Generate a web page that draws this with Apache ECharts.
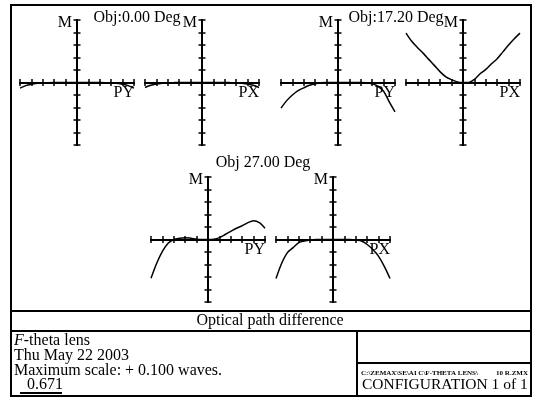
<!DOCTYPE html>
<html>
<head>
<meta charset="utf-8">
<script src="https://cdn.jsdelivr.net/npm/echarts@6/dist/echarts.min.js"></script>
<style>
html, body { margin: 0; padding: 0; background: #fff; }
#main { width: 538px; height: 398px; }
</style>
</head>
<body>
<div id="main"></div>
<script>
var pupil = [-1, -0.9, -0.8, -0.7, -0.6, -0.5, -0.4, -0.3, -0.2, -0.1, 0, 0.1, 0.2, 0.3, 0.4, 0.5, 0.6, 0.7, 0.8, 0.9, 1];
var opdObj0Py  = [-0.009, -0.005, -0.0028, -0.0014, -0.0006, -0.0002, 0, 0, 0, 0, 0, 0, 0, 0, 0, -0.0002, -0.0006, -0.0014, -0.0028, -0.005, -0.009];
var opdObj0Px  = [-0.008, -0.0045, -0.0025, -0.0013, -0.0005, -0.0002, 0, 0, 0, 0, 0, 0, 0, 0, 0, -0.0002, -0.0005, -0.0013, -0.0025, -0.0045, -0.008];
var opdObj17Py = [-0.041, -0.029, -0.020, -0.013, -0.0085, -0.0045, -0.002, -0.0005, 0, 0, 0, 0, 0, 0, 0, -0.0005, -0.002, -0.006, -0.014, -0.031, -0.047];
var opdObj17Px = [0.079, 0.066, 0.056, 0.047, 0.037, 0.027, 0.017, 0.009, 0.0045, 0.001, 0, 0, 0.005, 0.014, 0.021, 0.030, 0.038, 0.049, 0.060, 0.070, 0.079];
var opdObj27Py = [-0.062, -0.038, -0.019, -0.006, 0, 0.002, 0.003, 0.002, 0.0005, 0, 0, 0.0005, 0.003, 0.008, 0.013, 0.018, 0.022, 0.027, 0.030, 0.027, 0.018];
var opdObj27Px = [-0.0625, -0.038, -0.021, -0.013, -0.005, -0.0025, -0.001, 0, 0, 0, 0, 0, 0, 0, -0.001, -0.0025, -0.008, -0.016, -0.027, -0.043, -0.0625];

var fanNames = ['PY', 'PX', 'PY', 'PX', 'PY', 'PX'];
var fanData = [opdObj0Py, opdObj0Px, opdObj17Py, opdObj17Px, opdObj27Py, opdObj27Px];
var fieldTitles = ['Obj:0.00 Deg', 'Obj:17.20 Deg', 'Obj 27.00 Deg'];
var maxScale = 0.1;   // waves

// layout of the six little crosses
var boxes = [
  { left: 20,  top: 20 },
  { left: 145, top: 20 },
  { left: 281, top: 20 },
  { left: 406, top: 20 },
  { left: 151, top: 177 },
  { left: 276, top: 177 }
];

var FONT = "'Liberation Serif', 'Times New Roman', serif";
var myChart = echarts.init(document.getElementById('main'), null, { renderer: 'canvas' });

var grids = [], xAxes = [], yAxes = [], series = [];

function xAx(g, pos, name) {
  return {
    type: 'value', gridIndex: g, position: pos, min: -1, max: 1, interval: 0.2,
    name: name, nameLocation: 'end', nameGap: 0,
    nameTextStyle: { fontFamily: FONT, fontSize: 16, color: '#000', align: 'right', verticalAlign: 'top', padding: [2, 0, 0, 0] },
    axisLine: { show: true, onZero: true, lineStyle: { color: '#000', width: 2 } },
    axisTick: { show: true, length: 3.5, lineStyle: { color: '#000', width: 1.5 } },
    axisLabel: { show: false },
    splitLine: { show: false }
  };
}
function yAx(g, pos, name) {
  return {
    type: 'value', gridIndex: g, position: pos, min: -maxScale, max: maxScale, interval: 0.02,
    name: name, nameLocation: 'end', nameGap: -3,
    nameTextStyle: { fontFamily: FONT, fontSize: 16, color: '#000', align: 'right', verticalAlign: 'middle', padding: [0, 5, 0, 0] },
    axisLine: { show: true, onZero: true, lineStyle: { color: '#000', width: 2 } },
    axisTick: { show: true, length: 3.5, lineStyle: { color: '#000', width: 1.5 } },
    axisLabel: { show: false },
    splitLine: { show: false }
  };
}

for (var i = 0; i < 6; i++) {
  grids.push({ left: boxes[i].left, top: boxes[i].top, width: 114, height: 125, outerBoundsMode: 'none' });
  xAxes.push(xAx(i, 'bottom', fanNames[i]));
  xAxes.push(xAx(i, 'top', ''));
  yAxes.push(yAx(i, 'left', 'M'));
  yAxes.push(yAx(i, 'right', ''));
  series.push({
    type: 'line',
    xAxisIndex: 2 * i,
    yAxisIndex: 2 * i,
    data: pupil.map(function (p, k) { return [p, fanData[i][k]]; }),
    smooth: 0.3,
    showSymbol: false,
    symbol: 'none',
    silent: true,
    lineStyle: { color: '#000', width: 1.5 }
  });
}

function txt(t, x, y, size, align, extra) {
  var st = { text: t, font: size + 'px ' + FONT, fill: '#000', align: align, textAlign: align, verticalAlign: 'middle', textVerticalAlign: 'middle' };
  if (extra) for (var k in extra) st[k] = extra[k];
  return { type: 'text', x: x, y: y, silent: true, style: st };
}
function ln(x1, y1, x2, y2) {
  return { type: 'line', silent: true, shape: { x1: x1, y1: y1, x2: x2, y2: y2 }, style: { stroke: '#000', lineWidth: 2 } };
}

var option = {
  animation: false,
  backgroundColor: '#fff',
  grid: grids,
  xAxis: xAxes,
  yAxis: yAxes,
  series: series,
  graphic: [
    { type: 'rect', silent: true, shape: { x: 11, y: 5, width: 520, height: 391 }, style: { fill: 'none', stroke: '#000', lineWidth: 2 } },
    ln(11, 311, 531, 311),
    ln(11, 331, 531, 331),
    ln(357, 331, 357, 396),
    ln(357, 363, 531, 363),
    txt(fieldTitles[0], 137, 18, 16, 'center'),
    txt(fieldTitles[1], 396, 18, 16, 'center'),
    txt(fieldTitles[2], 263, 163, 16, 'center'),
    txt('Optical path difference', 270, 321, 16, 'center'),
    txt('{i|F}-theta lens', 14, 341, 16, 'left', { rich: { i: { fontStyle: 'italic', fontFamily: FONT, fontSize: 16 } } }),
    txt('Thu May 22 2003', 14, 356, 16, 'left'),
    txt('Maximum scale: + 0.100 waves.', 14, 371, 16, 'left'),
    txt('0.671', 27, 385, 16, 'left'),
    ln(20, 393, 62, 393),
    txt('C:\\ZEMAX\\SE\\AI C\\F-THETA LENS\\', 361, 373, 7, 'left', { font: 'bold 7px ' + FONT }),
    txt('10 R.ZMX', 528, 373, 7, 'right', { font: 'bold 7px ' + FONT }),
    txt('CONFIGURATION 1 of 1', 362, 385, 15.5, 'left')
  ]
};

myChart.setOption(option);
</script>
</body>
</html>
